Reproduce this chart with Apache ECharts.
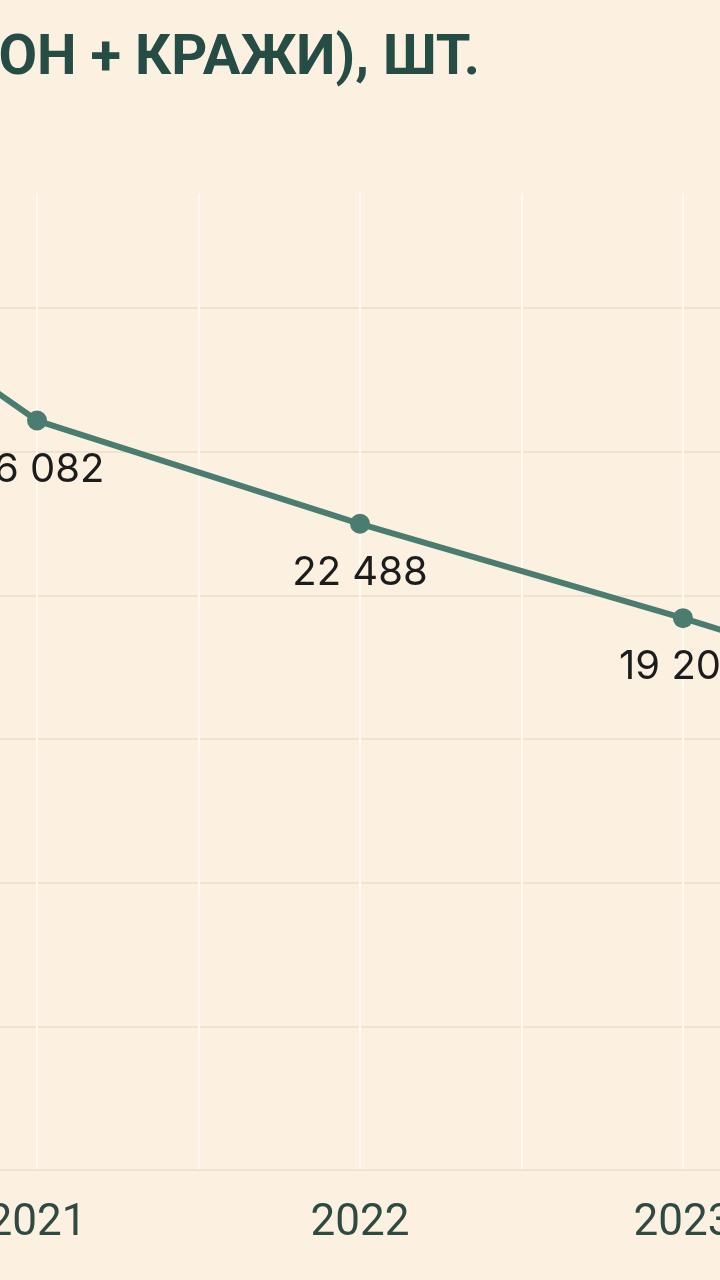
<!DOCTYPE html>
<html>
<head>
<meta charset="utf-8">
<script src="https://cdn.jsdelivr.net/npm/echarts@6/dist/echarts.min.js"></script>
<style>
  html, body { margin: 0; padding: 0; background: #fcf0e1; }
  #chart { width: 720px; height: 1280px; }
</style>
</head>
<body>
<div id="chart"></div>
<script>
(function(){

    // годы и значения (угон + кражи), шт.
    var years = [2020, 2021, 2022, 2023, 2024];
    var values = [33960, 26082, 22488, 19204, 15700];
    var titleText = 'УГОНЫ (УГОН + КРАЖИ), ШТ.';

    var seriesData = years.map(function(y, i){ return [y, values[i]]; });

    var option = {
        backgroundColor : '#fcf0e1',
        animation : false,
        graphic : [
            {
                type : 'text',
                style : {
                    text : titleText,
                    x : 480,
                    y : 60,
                    textAlign : 'right',
                    textVerticalAlign : 'middle',
                    font : 'bold 56px Roboto',
                    fill : '#264d45'
                }
            }
        ],
        grid : {
            left : -286,
            right : -286,
            top : 193,
            bottom : 110,
            outerBoundsMode : 'none',
            containLabel : false
        },
        xAxis : {
            type : 'value',
            min : 2020,
            max : 2024,
            interval : 0.5,
            axisLine : {
                show : true,
                lineStyle : { color : '#f1e2cf', width : 2 }
            },
            axisTick : { show : false },
            axisLabel : {
                margin : 32,
                fontFamily : 'Roboto',
                fontSize : 44,
                color : '#2f4a43',
                formatter : function(v){
                    return v % 1 === 0 ? String(v) : '';
                }
            },
            splitLine : {
                show : true,
                lineStyle : { color : '#fffaf2', width : 2 }
            }
        },
        yAxis : {
            type : 'value',
            min : 0,
            max : 34000,
            interval : 5000,
            axisLabel : { show : false },
            axisLine : { show : false },
            axisTick : { show : false },
            splitLine : {
                show : true,
                showMaxLine : false,
                lineStyle : { color : '#f1e2cf', width : 2 }
            }
        },
        series : [
            {
                type : 'line',
                data : seriesData,
                symbol : 'circle',
                symbolSize : 20,
                clip : false,
                lineStyle : { color : '#4a7d6f', width : 6 },
                itemStyle : { color : '#4a7d6f' },
                label : {
                    show : true,
                    position : 'bottom',
                    distance : 19,
                    fontFamily : 'Inter',
                    fontSize : 40,
                    color : '#1c1c1c',
                    formatter : function(p){
                        return String(p.value[1]).replace(/\B(?=(\d{3})+(?!\d))/g, ' ');
                    }
                }
            }
        ]
    };

    var myChart = echarts.init(document.getElementById('chart'));
    myChart.setOption(option);

})();
</script>
</body>
</html>
